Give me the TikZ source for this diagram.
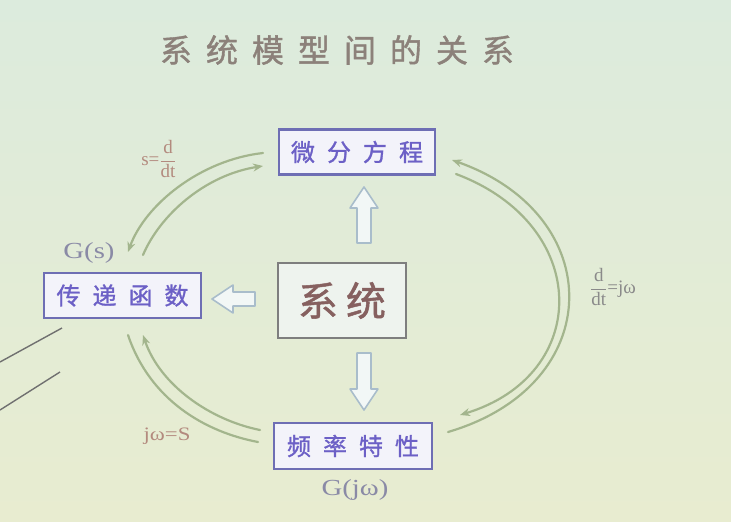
\documentclass[tikz,border=0pt]{standalone}
\usepackage{fontspec}
\setmainfont{Liberation Serif}
\newfontfamily\cjk[FakeBold=1.2]{Noto Sans CJK SC}
\usetikzlibrary{arrows.meta}

\definecolor{bgtop}{HTML}{DCEBDD}
\definecolor{bgmid}{HTML}{E2EDD8}
\definecolor{bgbot}{HTML}{E8ECD0}
\definecolor{titlecol}{HTML}{8C817A}
\definecolor{boxtext}{HTML}{6C60C6}
\definecolor{boxline}{HTML}{6E6EB4}
\definecolor{boxfill}{HTML}{F3F3FA}
\definecolor{systext}{HTML}{86605F}
\definecolor{sysline}{HTML}{7E7E7E}
\definecolor{sysfill}{HTML}{EEF3EE}
\definecolor{flowcol}{HTML}{A3B58D}
\definecolor{hollowline}{HTML}{A9BDCB}
\definecolor{hollowfill}{HTML}{F2F7F6}
\definecolor{gcol}{HTML}{8A8AA6}
\definecolor{eqred}{HTML}{B38A7E}
\definecolor{eqgray}{HTML}{8A8A8A}
\definecolor{pencol}{HTML}{707070}

\tikzset{
  modelbox/.style={draw=boxline, fill=boxfill, line width=2.2pt, inner sep=0pt,
    text=boxtext, font=\cjk\fontsize{24pt}{24pt}\selectfont},
  sysbox/.style={draw=sysline, fill=sysfill, line width=2.4pt, inner sep=0pt,
    text=systext, font=\cjk\fontsize{40pt}{40pt}\selectfont},
  titletext/.style={text=titlecol, font=\cjk\fontsize{32pt}{32pt}\selectfont},
  glabel/.style={text=gcol, font=\fontsize{23pt}{23pt}\selectfont, inner sep=0pt,
    xscale=1.25, transform shape},
  eqlabel/.style={font=\fontsize{19pt}{19pt}\selectfont, inner sep=0pt},
  flow/.style={draw=flowcol, line width=2.2pt, line cap=round},
  flowtip/.style={-{Stealth[length=10pt,width=8pt]}},
  blockarrow/.style={draw=hollowline, fill=hollowfill, line width=1.6pt, line join=round},
  hollowarrow/.pic={\path[blockarrow] (-7,0) -- (-7,-#1+21) -- (-14,-#1+21) -- (0,-#1)
      -- (14,-#1+21) -- (7,-#1+21) -- (7,0) -- cycle;},
  pen/.style={draw=pencol, line width=1.4pt}
}

\begin{document}
\begin{tikzpicture}[x=1pt,y=-1pt]
  % backdrop
  \shade[top color=bgtop, middle color=bgmid, bottom color=bgbot] (0,0) rectangle (731,522);
  \useasboundingbox (0,0) rectangle (731,522);

  % heading
  \node[titletext] (title) at (337,50)
    {系\hspace{14pt}统\hspace{14pt}模\hspace{14pt}型\hspace{14pt}间\hspace{14pt}的\hspace{14pt}关\hspace{14pt}系};

  % the four models
  \node[modelbox, minimum width=156pt, minimum height=45pt] (de) at (357,152)
    {微\hspace{12pt}分\hspace{12pt}方\hspace{12pt}程};
  \node[modelbox, minimum width=157pt, minimum height=45pt] (tf) at (122.5,295.5)
    {传\hspace{12pt}递\hspace{12pt}函\hspace{12pt}数};
  \node[modelbox, minimum width=158pt, minimum height=46pt] (fr) at (353,446)
    {频\hspace{12pt}率\hspace{12pt}特\hspace{12pt}性};
  \node[sysbox, minimum width=128pt, minimum height=75pt] (sys) at (342,300.5)
    {系\hspace{8pt}统};

  % hollow arrows from the system to the models
  \pic[rotate=0]   (up)    at (364,243) {hollowarrow=56};
  \pic[rotate=180] (down)  at (364,353) {hollowarrow=57};
  \pic[rotate=90]  (left)  at (255,299) {hollowarrow=43};

  % end points of the curved arrows
  \coordinate (ulA) at (263,153);
  \coordinate (ulB) at (128,252);
  \coordinate (ulC) at (143,255);
  \coordinate (ulD) at (263,166);
  \coordinate (rA)  at (448,432);
  \coordinate (rB)  at (452,160);
  \coordinate (rC)  at (456,174);
  \coordinate (rD)  at (460,415);
  \coordinate (blA) at (128,335);
  \coordinate (blB) at (258,442);
  \coordinate (blC) at (260,430);
  \coordinate (blD) at (143,335);

  % differential equation <-> transfer function
  \draw[flow, flowtip] (ulA) .. controls (200,160) and (145,205) .. (ulB);
  \draw[flow, flowtip] (ulC) .. controls (160,215) and (205,175) .. (ulD);
  % differential equation <-> frequency response
  \draw[flow, flowtip] (rA) .. controls (608,385) and (608,215) .. (rB);
  \draw[flow, flowtip] (rC) .. controls (592,225) and (592,375) .. (rD);
  % frequency response <-> transfer function
  \draw[flow] (blA) .. controls (150,400) and (205,432) .. (blB);
  \draw[flow, flowtip] (blC) .. controls (210,420) and (160,385) .. (blD);

  % labels
  \node[glabel] (gs)  at (89,253)  {G(s)};
  \node[glabel] (gjw) at (355,490) {G(jω)};
  \node[eqlabel, text=eqred] (sdt) at (159,159)
    {s=$\displaystyle\frac{\hbox{d}}{\hbox{dt}}$};
  \node[eqlabel, text=eqgray] (dtj) at (613,287)
    {$\displaystyle\frac{\hbox{d}}{\hbox{dt}}$=jω};
  \node[eqlabel, text=eqred, xscale=1.2, transform shape] (jws) at (167,436) {jω=S};

  % pen strokes at the lower left
  \coordinate (p1a) at (0,362);
  \coordinate (p1b) at (62,328);
  \coordinate (p2a) at (0,410);
  \coordinate (p2b) at (60,372);
  \draw[pen] (p1a) -- (p1b);
  \draw[pen] (p2a) -- (p2b);
\end{tikzpicture}
\end{document}
